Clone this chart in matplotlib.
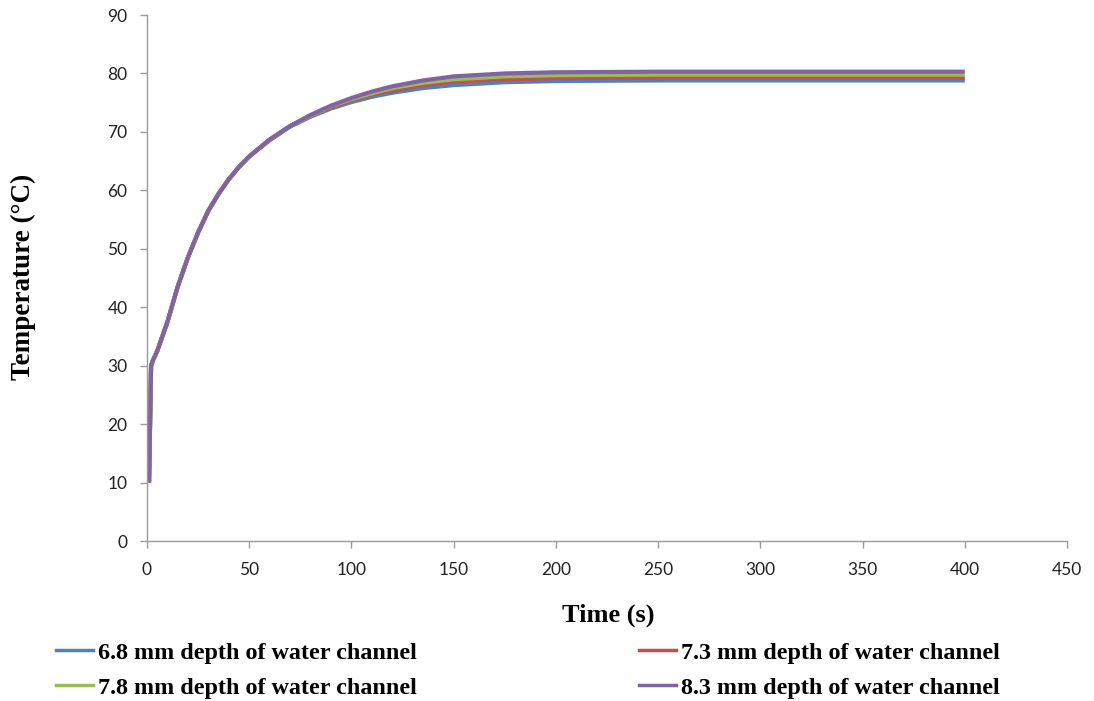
import matplotlib
matplotlib.use("Agg")
import matplotlib.pyplot as plt

# Time (s)
time_s = [1, 2, 3, 5, 10, 15, 20, 25, 30, 35, 40, 45, 50, 60, 70, 80, 90,
          100, 110, 120, 135, 150, 175, 200, 250, 300, 350, 400]

# Temperature (°C) for each water-channel depth
temp_68 = [10, 30, 31, 32.5, 37.5, 43.5, 48.5, 52.8, 56.5, 59.4, 61.9, 64.0, 65.8,
           68.6, 70.9, 72.6, 74.0, 75.1, 76.0, 76.7, 77.5, 78.0, 78.5, 78.7,
           78.8, 78.8, 78.8, 78.8]
temp_73 = [10, 30, 31, 32.5, 37.5, 43.5, 48.5, 52.8, 56.5, 59.4, 61.9, 64.0, 65.8,
           68.6, 71.0, 72.7, 74.2, 75.4, 76.4, 77.1, 78.0, 78.6, 79.0, 79.2,
           79.3, 79.3, 79.3, 79.3]
temp_78 = [10, 30, 31, 32.5, 37.5, 43.5, 48.5, 52.8, 56.5, 59.4, 61.9, 64.0, 65.8,
           68.7, 71.0, 72.8, 74.4, 75.6, 76.6, 77.5, 78.4, 79.0, 79.5, 79.7,
           79.8, 79.8, 79.8, 79.8]
temp_83 = [10, 30, 31, 32.5, 37.5, 43.5, 48.5, 52.8, 56.5, 59.4, 61.9, 64.0, 65.8,
           68.7, 71.0, 72.9, 74.5, 75.8, 76.9, 77.8, 78.8, 79.5, 80.0, 80.2,
           80.3, 80.3, 80.3, 80.3]

labels = ["6.8 mm depth of water channel", "7.3 mm depth of water channel",
          "7.8 mm depth of water channel", "8.3 mm depth of water channel"]
colors = ["#4F81BD", "#C0504D", "#9BBB59", "#8064A2"]

fig = plt.figure(figsize=(10.94, 7.01), dpi=100)
ax = fig.add_axes([147 / 1094, 1 - 541 / 701, (1067 - 147) / 1094, (541 - 15) / 701])

for series, lab, col in zip([temp_68, temp_73, temp_78, temp_83], labels, colors):
    ax.plot(time_s, series, color=col, lw=3.0, label=lab,
            solid_capstyle="butt", solid_joinstyle="round")

ax.set_xlim(0, 450)
ax.set_ylim(0, 90)
ax.set_xticks(range(0, 451, 50))
ax.set_yticks(range(0, 91, 10))

for side in ["top", "right"]:
    ax.spines[side].set_visible(False)
for side in ["left", "bottom"]:
    ax.spines[side].set_color("#9A9A9A")
    ax.spines[side].set_linewidth(1.0)
ax.tick_params(axis="both", direction="out", length=5, width=1.0, color="#9A9A9A",
               labelsize=12.5, labelcolor="#222222")
ax.tick_params(axis="x", pad=10)
ax.tick_params(axis="y", pad=9)
for t in ax.get_xticklabels() + ax.get_yticklabels():
    t.set_fontfamily("Lato")

serif = "Liberation Serif"
fig.text(608 / 1094, 1 - 615 / 701, "Time (s)", ha="center", va="center",
         fontsize=19, fontweight="bold", family=serif)
fig.text(23 / 1094, 1 - 277 / 701, "Temperature (\u00b0C)", ha="center", va="center",
         rotation=90, fontsize=19.5, fontweight="bold", family=serif)

# Legend entries run across rows: 6.8 | 7.3 / 7.8 | 8.3
order = [0, 2, 1, 3]
leg_lines = []
for i in order:
    h, = ax.plot([], [], color=colors[i], lw=2.5)
    leg_lines.append(h)
fig.legend(leg_lines, [labels[i] for i in order], loc="upper left",
           bbox_to_anchor=(56 / 1094, 1 - 642 / 701), ncol=2,
           frameon=False, handlelength=1.53, handletextpad=0.2, columnspacing=9.2,
           labelspacing=0.54, borderpad=0, borderaxespad=0,
           prop={"family": serif, "weight": "bold", "size": 17.4})

fig.savefig("out.png", dpi=100, facecolor="white")
